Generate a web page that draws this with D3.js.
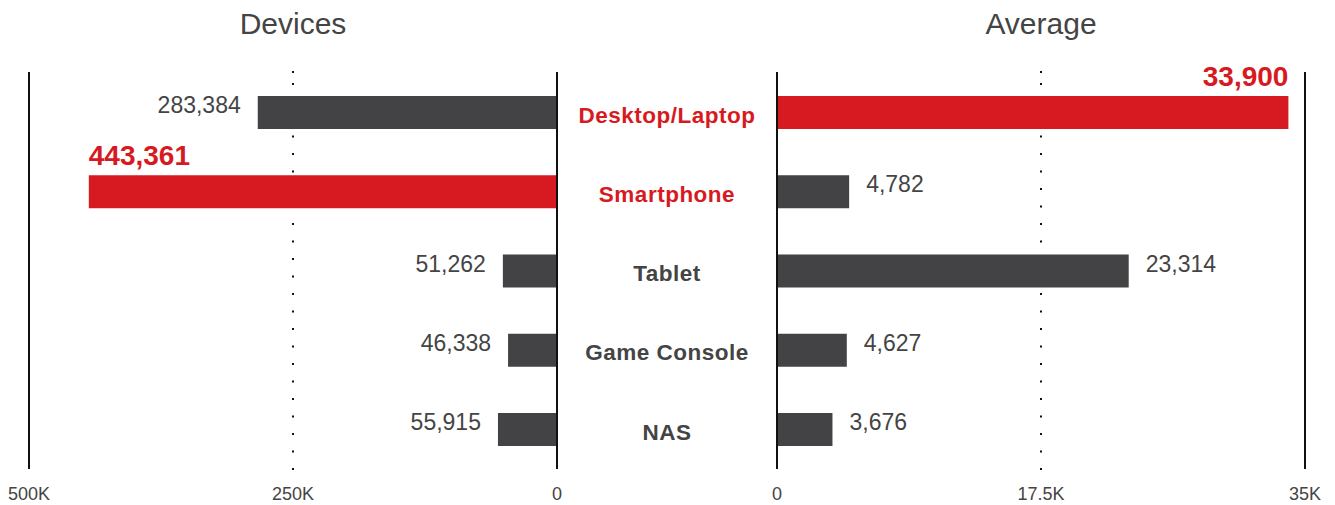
<!DOCTYPE html>
<html><head><meta charset="utf-8">
<script src="https://cdn.jsdelivr.net/npm/d3@7"></script>
<style>
html,body{margin:0;padding:0;background:#fff;}
svg{display:block;font-family:"Liberation Sans",Arial,sans-serif;}
</style></head><body>
<svg id="chart" width="1335" height="505"></svg>
<script>
const categories = ["Desktop/Laptop","Smartphone","Tablet","Game Console","NAS"];
const devices = [283384, 443361, 51262, 46338, 55915];
const averages = [33900, 4782, 23314, 4627, 3676];
const devicesHighlight = [false, true, false, false, false];
const averagesHighlight = [true, false, false, false, false];
const devicesTicks = [500000, 250000, 0];
const devicesTickLabels = ["500K","250K","0"];
const averagesTicks = [0, 17500, 35000];
const averagesTickLabels = ["0","17.5K","35K"];
const titles = ["Devices","Average"];

const RED = "#d71a21", GRAY = "#434345", TXT = "#444444";
const svg = d3.select("#chart");
const fmt = d3.format(",");

const y = d3.scalePoint().domain(categories).range([112.5, 429.5]);
const barH = 33;
const axisTop = 72, axisBottom = 469;

const xL = d3.scaleLinear().domain([0, 500000]).range([557, 29]);
const xR = d3.scaleLinear().domain([0, 35000]).range([777, 1305]);

function dotted(x) {
  const ys = [axisTop].concat(d3.range(84, axisBottom + 0.5, 17.5));
  svg.append("g").selectAll("rect").data(ys).join("rect")
    .attr("x", x - 1).attr("y", d => d - 1).attr("width", 2).attr("height", 2)
    .attr("fill", "#111");
}

function panel(x, values, hl, ticks, tickLabels, side, title) {
  dotted(x(ticks[1]));
  const g = svg.append("g");
  g.selectAll("rect.bar").data(values).join("rect").attr("class","bar")
    .attr("x", d => Math.min(x(0), x(d)))
    .attr("width", d => Math.abs(x(d) - x(0)))
    .attr("y", (d,i) => y(categories[i]) - barH/2)
    .attr("height", barH)
    .attr("fill", (d,i) => hl[i] ? RED : GRAY);
  [ticks[0], ticks[2]].forEach(t => {
    g.append("line").attr("x1", x(t)).attr("x2", x(t)).attr("y1", axisTop).attr("y2", axisBottom)
      .attr("stroke", "#111").attr("stroke-width", 2);
  });
  g.selectAll("text.tick").data(ticks).join("text").attr("class","tick")
    .attr("x", d => x(d)).attr("y", 500).attr("text-anchor","middle")
    .attr("font-size", 18).attr("fill", TXT)
    .text((d,i) => tickLabels[i]);
  values.forEach((v,i) => {
    const yc = y(categories[i]);
    if (hl[i]) {
      g.append("text")
        .attr("x", x(v)).attr("y", yc - barH/2 - 10)
        .attr("text-anchor", side === "left" ? "start" : "end")
        .attr("font-size", 28).attr("font-weight", "bold").attr("fill", RED)
        .text(fmt(v));
    } else {
      g.append("text")
        .attr("x", x(v) + (side === "left" ? -17 : 17)).attr("y", yc - barH/2 + 17)
        .attr("text-anchor", side === "left" ? "end" : "start")
        .attr("font-size", 23).attr("fill", TXT)
        .text(fmt(v));
    }
  });
  svg.append("text").attr("x", x(ticks[1])).attr("y", 34).attr("text-anchor","middle")
    .attr("font-size", 30).attr("fill", TXT).text(title);
}

panel(xL, devices, devicesHighlight, devicesTicks, devicesTickLabels, "left", titles[0]);
panel(xR, averages, averagesHighlight, averagesTicks, averagesTickLabels, "right", titles[1]);

svg.append("g").selectAll("text").data(categories).join("text")
  .attr("x", (xL(0) + xR(0)) / 2)
  .attr("y", d => y(d) + 10)
  .attr("text-anchor", "middle")
  .attr("font-size", 22.5).attr("font-weight", "bold").attr("letter-spacing", 0.5)
  .attr("fill", (d,i) => (devicesHighlight[i] || averagesHighlight[i]) ? RED : TXT)
  .text(d => d);
</script>
</body></html>
